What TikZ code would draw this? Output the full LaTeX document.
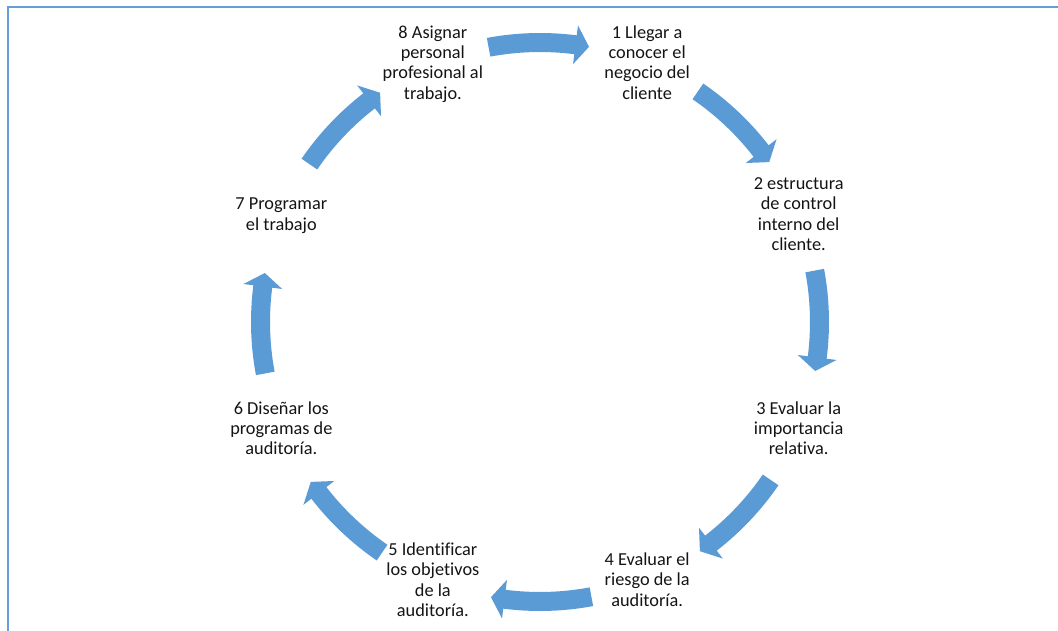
\documentclass[tikz,border=0pt]{standalone}
\usepackage{fontspec}
\setmainfont{Carlito}[Ligatures=NoCommon]
\definecolor{officeblue}{RGB}{91,155,213}
\definecolor{framecol}{RGB}{100,160,215}
\newcommand\lnstrut{\rule[-4.9pt]{0pt}{20.3pt}}
\newcommand\cycarrow[1]{%
  \fill[arrowfill] ({#1+10.6}:289pt) arc[start angle={#1+10.6}, end angle={#1-7.3}, radius=289pt]
    -- ({#1-7.3}:299pt) -- ({#1-10.1}:279.5pt) -- ({#1-7.3}:260pt) -- ({#1-7.3}:270pt)
    arc[start angle={#1-7.3}, end angle={#1+10.6}, radius=270pt] -- cycle;}
\tikzset{
  arrowfill/.style={fill=officeblue},
  steptext/.style={align=center, inner sep=0pt, text={rgb,255:red,20;green,20;blue,20},
    font=\fontsize{18.3}{20.3}\selectfont},
  framelines/.style={draw=framecol, line width=2pt}
}
\begin{document}
\begin{tikzpicture}[x=1pt,y=1pt]
\useasboundingbox (0,0) rectangle (1058,630);
\draw[framelines] (8.3,-5) -- (8.3,622.7) -- (1065,622.7);
\coordinate (C) at (540,308);
\begin{scope}[shift={(C)}]
  \node[steptext] (n1) at (67.5:280pt) {\lnstrut 1 Llegar a\\\lnstrut conocer el\\\lnstrut negocio del\\\lnstrut cliente};
  \node[steptext] (n2) at (22.5:280pt) {\lnstrut 2 estructura\\\lnstrut de control\\\lnstrut interno del\\\lnstrut cliente.};
  \node[steptext] (n3) at (-22.5:280pt) {\lnstrut 3 Evaluar la\\\lnstrut importancia\\\lnstrut relativa.};
  \node[steptext] (n4) at (-67.5:280pt) {\lnstrut 4 Evaluar el\\\lnstrut riesgo de la\\\lnstrut auditoría.};
  \node[steptext] (n5) at (-112.5:280pt) {\lnstrut 5 Identificar\\\lnstrut los objetivos\\\lnstrut de la\\\lnstrut auditoría.};
  \node[steptext] (n6) at (-157.5:280pt) {\lnstrut 6 Diseñar los\\\lnstrut programas de\\\lnstrut auditoría.};
  \node[steptext] (n7) at (157.5:280pt) {\lnstrut 7 Programar\\\lnstrut el trabajo};
  \node[steptext] (n8) at (112.5:280pt) {\lnstrut 8 Asignar\\\lnstrut personal\\\lnstrut profesional al\\\lnstrut trabajo.};
  \cycarrow{90}
  \cycarrow{45}
  \cycarrow{0}
  \cycarrow{-45}
  \cycarrow{-90}
  \cycarrow{-135}
  \cycarrow{180}
  \cycarrow{135}
\end{scope}
\end{tikzpicture}
\end{document}
